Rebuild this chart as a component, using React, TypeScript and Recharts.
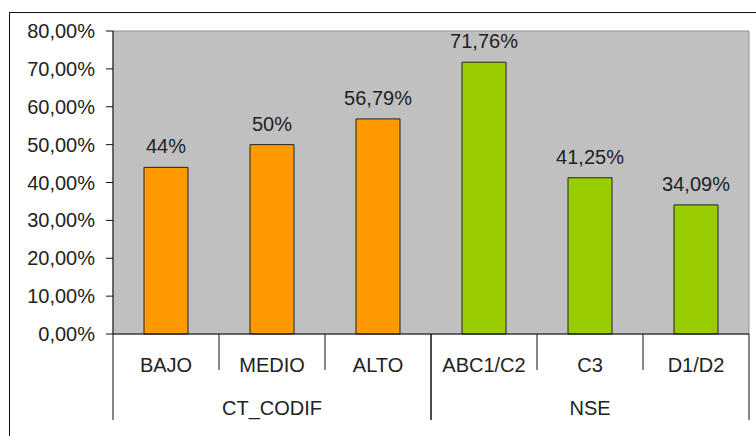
import { BarChart, Bar, XAxis, YAxis, CartesianGrid, Cell, LabelList, ReferenceArea } from "recharts";

const categories = ["BAJO", "MEDIO", "ALTO", "ABC1/C2", "C3", "D1/D2"];
const groups = ["CT_CODIF", "CT_CODIF", "CT_CODIF", "NSE", "NSE", "NSE"];
const values = [44, 50, 56.79, 71.76, 41.25, 34.09];
const yTicks = [0, 10, 20, 30, 40, 50, 60, 70, 80];

const GROUP_COLORS: Record<string, string> = {
  CT_CODIF: "#ff9900",
  NSE: "#99cc00",
};

const data = categories.map((name, i) => ({ name, group: groups[i], value: values[i] }));

const FONT = "'Liberation Sans', Arial, sans-serif";
const FS = 20;

function fmtPct(v: number, decimals: boolean) {
  if (!decimals && Number.isInteger(v)) return `${v}%`;
  return `${v.toFixed(2).replace(".", ",")}%`;
}

function CategoryTick(props: any) {
  const { x, y, payload, index, width, visibleTicksCount } = props;
  const n = visibleTicksCount || categories.length;
  const band = width ? width / n : 106;
  const left = x - band / 2;
  const right = x + band / 2;
  const g = groups[index];
  const isGroupStart = index === 0 || groups[index - 1] !== g;
  const isGroupEnd = index === groups.length - 1 || groups[index + 1] !== g;
  const members = groups.map((gg, i) => (gg === g ? i : -1)).filter((i) => i >= 0);
  const isGroupCenter = members[Math.floor(members.length / 2)] === index;
  return (
    <g>
      {isGroupStart && <line x1={left} x2={left} y1={y} y2={y + 86} stroke="#111" />}
      <line x1={right} x2={right} y1={y} y2={y + (isGroupEnd ? 86 : 36)} stroke="#111" />
      <text x={x} y={y + 38} textAnchor="middle" fontSize={FS} fill="#222" fontFamily={FONT}>
        {payload.value}
      </text>
      {isGroupCenter && (
        <text
          x={members.length % 2 === 1 ? x : left}
          y={y + 81}
          textAnchor="middle"
          fontSize={FS}
          fill="#222"
          fontFamily={FONT}
        >
          {g}
        </text>
      )}
    </g>
  );
}

export default function App() {
  return (
    <div style={{ position: "relative", width: 756, height: 436, overflow: "hidden", background: "#fff" }}>
      <style>{"body{margin:0}"}</style>
      <div
        style={{
          position: "absolute",
          left: 9,
          top: 12,
          width: 780,
          height: 460,
          border: "1px solid #111",
        }}
      />
      <div style={{ position: "absolute", left: 0, top: 0 }}>
        <BarChart width={756} height={436} data={data} margin={{ top: 31, right: 7, bottom: 2, left: 0 }}>
          <CartesianGrid horizontal={false} vertical={false} fill="#c0c0c0" stroke="none" />
          <ReferenceArea y1={0} y2={80} fill="none" stroke="#8f8f8f" strokeWidth={1} ifOverflow="extendDomain" />
          <YAxis
            width={113}
            domain={[0, 80]}
            ticks={yTicks}
            interval={0}
            tickSize={7}
            tickMargin={11}
            axisLine={{ stroke: "#111" }}
            tickLine={{ stroke: "#111" }}
            tick={{ fontSize: FS, fill: "#222", fontFamily: FONT }}
            tickFormatter={(v: number) => fmtPct(v, true)}
          />
          <XAxis
            dataKey="name"
            height={100}
            interval={0}
            tickSize={0}
            tickMargin={0}
            tickLine={false}
            axisLine={{ stroke: "#111" }}
            tick={<CategoryTick />}
          />
          <Bar dataKey="value" barSize={44} stroke="#222" strokeWidth={1} isAnimationActive={false}>
            {data.map((d, i) => (
              <Cell key={i} fill={GROUP_COLORS[d.group]} />
            ))}
            <LabelList
              dataKey="value"
              position="top"
              offset={14}
              fontSize={FS}
              fill="#222"
              fontFamily={FONT}
              formatter={(v: any) => fmtPct(Number(v), false)}
            />
          </Bar>
        </BarChart>
      </div>
    </div>
  );
}
